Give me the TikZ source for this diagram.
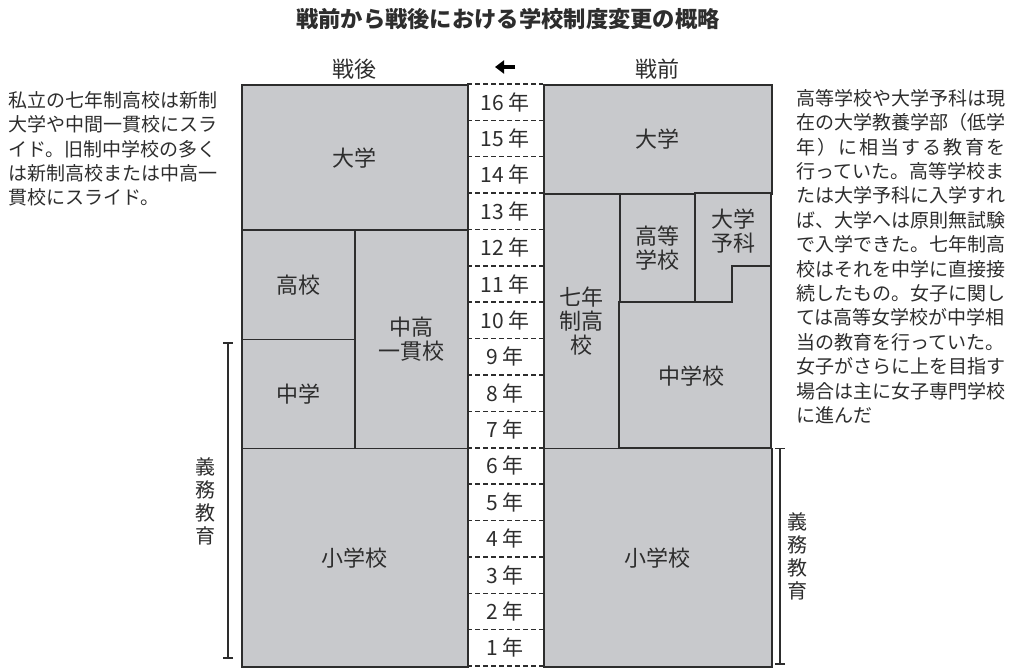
\documentclass[tikz,border=0pt]{standalone}
\usepackage{fontspec}
\setmainfont{Noto Sans CJK JP}
\usepackage{tikz}
\usetikzlibrary{arrows.meta}
\definecolor{boxgray}{RGB}{200,201,204}
\definecolor{inkgray}{RGB}{45,45,45}

\begin{document}
\begin{tikzpicture}[x=1pt, y=-1pt, block/.style={rectangle, draw=inkgray, fill=boxgray, line width=1.7pt, anchor=north west, inner sep=0pt, align=center, text=inkgray, font=\fontsize{22}{24}\selectfont}, outline/.style={draw=inkgray, fill=boxgray, line width=1.7pt}, boxtext/.style={align=center, text=inkgray, font=\fontsize{22}{24}\selectfont}, yearlabel/.style={text=inkgray, font=\fontsize{21}{21}\selectfont}, yearline/.style={draw=inkgray, line width=1.5pt, dash pattern=on 5pt off 3pt}, note/.style={anchor=north west, align=left, inner sep=0pt, text=inkgray, font=\fontsize{19}{24.4}\selectfont}, vlabel/.style={align=center, inner sep=0pt, text=inkgray, font=\fontsize{20}{23}\selectfont}, bracket/.style={draw=inkgray, line width=1.6pt, {Bar[width=10pt]}-{Bar[width=10pt]}}, arrow/.style={draw=black, line width=3.5pt, -{Triangle[length=9pt, width=13pt]}}]
\useasboundingbox (0,0) rectangle (1015,668);
\node [text=inkgray, font=\fontsize{22.3}{22.3}\selectfont\bfseries] (title) at (508,19) {戦前から戦後における学校制度変更の概略};
\node [boxtext] (after) at (354,69) {戦後};
\node [boxtext] (before) at (657,69) {戦前};
\coordinate (arrowR) at (515,67);
\coordinate (arrowL) at (495,67);
\draw [arrow] (arrowR) -- (arrowL);
\node [block, minimum width=226pt, minimum height=145.5pt] (newuni) at (241,84) {大学};
\node [block, minimum width=113pt, minimum height=109.1pt] (newhigh) at (241,229.5) {高校};
\node [block, minimum width=113pt, minimum height=109.15pt] (newmid) at (241,338.6) {中学};
\node [block, minimum width=113pt, minimum height=218.25pt] (combined) at (354,229.5) {中高\\一貫校};
\node [block, minimum width=226pt, minimum height=218.25pt] (newelem) at (241,447.75) {小学校};
\node [block, minimum width=228pt, minimum height=109.1pt] (olduni) at (543,84) {大学};
\node [block, minimum width=76pt, minimum height=254.65pt] (sevenyear) at (543,193.1) {七年\\制高\\校};
\node [block, minimum width=76pt, minimum height=109.15pt] (oldhigh) at (619,193.1) {高等\\学校};
\draw [outline] (695,193.1) -- (771,193.1) -- (771,265.9) -- (732,265.9) -- (732,302.25) -- (695,302.25) -- cycle;
\node [boxtext] (prep) at (733,231) {大学\\予科};
\draw [outline] (619,302.25) -- (732,302.25) -- (732,265.9) -- (771,265.9) -- (771,447.75) -- (619,447.75) -- cycle;
\node [boxtext] (oldmid) at (691,376) {中学校};
\node [block, minimum width=228pt, minimum height=218.25pt] (oldelem) at (543,447.75) {小学校};
\foreach \i in {0,...,16}
  \draw [yearline] (467,{84+\i*36.375}) -- (543,{84+\i*36.375});
\foreach \n in {1,...,16}
  \node [yearlabel] (year\n) at (505,{84+(16.5-\n)*36.375}) {\n\ 年};
\coordinate (lefttop) at (228,342);
\coordinate (leftbot) at (228,659);
\draw [bracket] (lefttop) -- (leftbot);
\node [vlabel] (leftduty) at (205,501) {義\\務\\教\\育};
\coordinate (righttop) at (780,447.75);
\coordinate (rightbot) at (780,665);
\draw [bracket] (righttop) -- (rightbot);
\node [vlabel] (rightduty) at (797,556) {義\\務\\教\\育};
\node [note] (leftnote) at (8,91) {私立の七年制高校は新制\\大学や中間一貫校にスラ\\イド。旧制中学校の多く\\は新制高校または中高一\\貫校にスライド。};
\node [note] (rightnote) at (796,89) {高等学校や大学予科は現\\在の大学教養学部（低学\\\hbox to 11em{年\hfil）\hfil に\hfil 相\hfil 当\hfil す\hfil る\hfil 教\hfil 育\hfil を}\\行っていた。高等学校ま\\たは大学予科に入学すれ\\ば、大学へは原則無試験\\で入学できた。七年制高\\校はそれを中学に直接接\\続したもの。女子に関し\\ては高等女学校が中学相\\当の教育を行っていた。\\女子がさらに上を目指す\\場合は主に女子専門学校\\に進んだ};
\end{tikzpicture}
\end{document}
